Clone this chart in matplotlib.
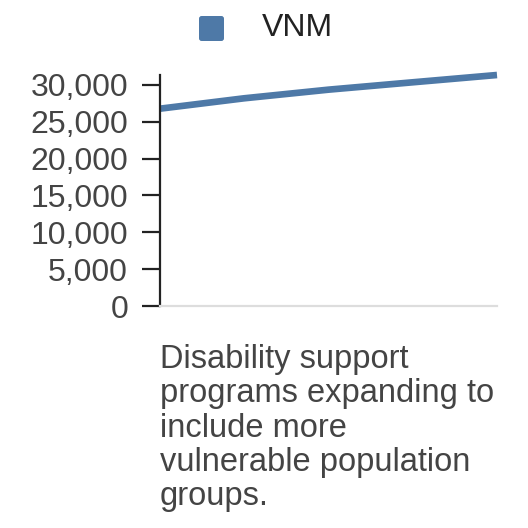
import matplotlib
matplotlib.use("Agg")
import matplotlib.pyplot as plt
from matplotlib.ticker import FuncFormatter
from matplotlib.patches import FancyBboxPatch

# Data
series_name = "VNM"
x_points = [0, 1, 2, 3, 4]
values = [26780, 28190, 29360, 30360, 31350]
y_ticks = [0, 5000, 10000, 15000, 20000, 25000, 30000]
caption = "Disability support\nprograms expanding to\ninclude more\nvulnerable population\ngroups."

line_color = "#4e79a7"
text_color = "#444444"

plt.rcParams['font.family'] = ['Liberation Sans', 'DejaVu Sans']

fig = plt.figure(figsize=(5.28, 5.28), dpi=100)
W = H = 528.0
left, right, top, bottom = 160, 497, 75, 306
ax = fig.add_axes([left / W, 1 - bottom / H, (right - left) / W, (bottom - top) / H])

ax.plot(x_points, values, color=line_color, linewidth=4.8, solid_capstyle='butt', clip_on=False)
ax.set_xlim(x_points[0], x_points[-1])
ax.set_ylim(0, max(values))

ax.set_yticks(y_ticks)
ax.yaxis.set_major_formatter(FuncFormatter(lambda v, p: f"{int(v):,}"))
ax.tick_params(axis='y', length=13, width=1.6, color="#222222", pad=10,
               labelsize=23, labelcolor=text_color)
ax.set_xticks([])

for s in ['top', 'right']:
    ax.spines[s].set_visible(False)
ax.spines['left'].set_color("#222222")
ax.spines['left'].set_linewidth(1.6)
ax.spines['bottom'].set_color("#dddddd")
ax.spines['bottom'].set_linewidth(1.6)

# Legend
sq = FancyBboxPatch((199 / W, 1 - 41 / H), 25 / W, 25 / H,
                    boxstyle="round,pad=0,rounding_size=0.005",
                    transform=fig.transFigure, facecolor=line_color, edgecolor='none')
fig.patches.append(sq)
fig.text(262 / W, 1 - 28 / H, series_name, fontsize=23, color="#222222", va='center', ha='left')

# Caption
fig.text(160 / W, 1 - 344 / H, caption, fontsize=23.5, color=text_color,
         va='top', ha='left', linespacing=1.14)

fig.savefig("out.png", dpi=100)
